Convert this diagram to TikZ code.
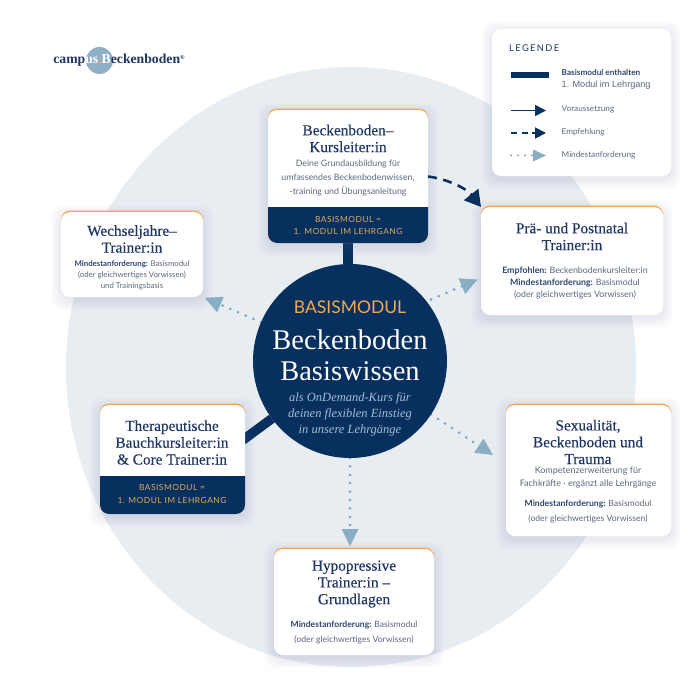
\documentclass[tikz,border=0pt]{standalone}
\usepackage{fontspec}
\setmainfont{Liberation Serif}
\newfontfamily\titlefont[FakeBold=0.25]{Liberation Serif}
\newfontfamily\bodyfont{Lato}
\newfontfamily\capsfont[LetterSpace=6]{Lato}
\newfontfamily\wideFont[LetterSpace=15]{Lato}
\newfontfamily\helvfont{Liberation Sans}
\usetikzlibrary{arrows.meta,calc}
\definecolor{navy}{HTML}{07305F}
\definecolor{titleblue}{HTML}{1F3564}
\definecolor{labelblue}{HTML}{2E4570}
\definecolor{bodygrey}{HTML}{5C687D}
\definecolor{gold}{HTML}{F2A94E}
\definecolor{goldtext}{HTML}{E0A960}
\definecolor{discbg}{HTML}{E8EDF2}
\definecolor{lightarrow}{HTML}{8AAFC5}
\definecolor{dotblue}{HTML}{7FA6C0}
\definecolor{italicblue}{HTML}{A6BDD4}
\definecolor{logoblue}{HTML}{8FAFC6}
\pgfdeclarelayer{bgl}
\pgfdeclarelayer{conn}
\pgfsetlayers{bgl,conn,main}
\tikzset{
  titletext/.style={font=\titlefont\fontsize{15.3}{16.8}\selectfont, text=titleblue, align=center, inner sep=0pt},
  bodytext/.style n args={2}{font=\bodyfont\fontsize{#1}{#2}\selectfont, text=bodygrey, align=center, inner sep=0pt},
  bandtext/.style={font=\capsfont\fontsize{8.4}{12.4}\selectfont, text=goldtext, align=center, inner sep=0pt},
  legendtext/.style={font=\bodyfont\fontsize{8.2}{10}\selectfont, text=bodygrey, anchor=west, inner sep=0pt},
  thickconn/.style={draw=navy, line width=9.5pt},
  minline/.style={draw=dotblue, line width=3pt, dash pattern=on 0pt off 8.4pt, line cap=round,
     -{Triangle[length=17pt,width=17pt,color=lightarrow,fill=lightarrow,line cap=butt,line width=0pt]}},
  empfline/.style={draw=navy, line width=2.6pt, dash pattern=on 9pt off 6.5pt,
     -{Triangle[length=16pt,width=18pt,fill=navy]}},
  legsolid/.style={draw=navy, line width=1.8pt, -{Triangle[length=11pt,width=11pt,fill=navy]}},
  legdash/.style={draw=navy, line width=1.8pt, dash pattern=on 6pt off 4.5pt, -{Triangle[length=11pt,width=11pt,fill=navy]}},
  legdot/.style={draw=dotblue, line width=2.2pt, dash pattern=on 0pt off 7pt, line cap=round,
     -{Triangle[length=13pt,width=12pt,color=lightarrow,fill=lightarrow,line cap=butt,line width=0pt]}},
  softshadow/.style={fill=black!60!blue!60!white, fill opacity=0.018, rounded corners=11pt}
}
\newcommand{\softshade}[4]{%
  \foreach \e in {1,2.5,4,5.5,7,8.5,10}{%
    \fill[softshadow] ({#1-\e},{#2+3-\e}) rectangle ({#3+\e},{#4+3+\e});}}
\newcommand{\whitecard}[5]{%
  \node[fill=white, rounded corners=9pt, inner sep=0pt, outer sep=0pt,
        minimum width={(#4-#2)*1pt}, minimum height={(#5-#3)*1pt}] (#1) at ({(#2+#4)/2},{(#3+#5)/2}) {};}
\newcommand{\goldcard}[5]{%
  \softshade{#2}{#3}{#4}{#5}%
  \fill[gold, rounded corners=9pt] (#2,{#3-1.5}) rectangle (#4,{#3+14});%
  \whitecard{#1}{#2}{#3}{#4}{#5}}
\newcommand{\band}[4]{%
  \fill[navy] (#1,#3) -- (#2,#3) [rounded corners=9pt] -- (#2,#4) -- (#1,#4) [sharp corners] -- cycle;}
\begin{document}
\begin{tikzpicture}[x=1pt,y=-1pt]
\useasboundingbox (0,0) rectangle (700,690);
\begin{pgfonlayer}{bgl}
  \fill[white] (0,0) rectangle (700,690);
  \fill[discbg] (351,367) ellipse [x radius=285, y radius=300];
\end{pgfonlayer}

% logo
\fill[logoblue] (99.5,60.5) circle [radius=13.5];
\node[font=\bfseries\fontsize{13.7}{14}\selectfont, text=titleblue, inner sep=0pt] (logo) at (119,60)
  {camp\textcolor{white}{us}\textcolor{gold}{.}\textcolor{white}{B}eckenboden\raisebox{3.5pt}{\fontsize{6}{6}\selectfont ®}};

% cards
\softshade{492}{29}{671}{176}
\whitecard{legend}{492}{29}{671}{176}

\goldcard{kurs}{268}{110}{428}{243}
\band{268}{428}{207}{243}
\node[titletext] (kurstitle) at (348,138.5) {Beckenboden–\\Kursleiter:in};
\node[bodytext={8.8}{14}] (kurstext) at (348,178) {Deine Grundausbildung für\\umfassendes Beckenbodenwissen,\\-training und Übungsanleitung};
\node[bandtext] (kursband) at (348,225.5) {BASISMODUL =\\1. MODUL IM LEHRGANG};

\goldcard{wechsel}{61}{212}{203}{297}
\node[titletext] (wechseltitle) at (132,239) {Wechseljahre–\\Trainer:in};
\node[bodytext={7.8}{11}] (wechseltext) at (132,275)
  {\textcolor{labelblue}{\textbf{Mindestanforderung:}} Basismodul\\(oder gleichwertiges Vorwissen)\\und Trainingsbasis};

\goldcard{prae}{481}{207}{663}{315}
\node[titletext] (praetitle) at (572,236.5) {Prä- und Postnatal\\Trainer:in};
\node[bodytext={8.8}{12}] (praetext) at (575,283)
  {\textcolor{labelblue}{\textbf{Empfohlen:}} Beckenbodenkursleiter:in\\\textcolor{labelblue}{\textbf{Mindestanforderung:}} Basismodul\\(oder gleichwertiges Vorwissen)};

\goldcard{therap}{100}{405}{245}{514}
\band{100}{245}{476}{514}
\node[titletext] (theraptitle) at (172,442.5) {Therapeutische\\Bauchkursleiter:in\\\& Core Trainer:in};
\node[bandtext] (therapband) at (172,494) {BASISMODUL =\\1. MODUL IM LEHRGANG};

\goldcard{sex}{506}{405}{671}{536}
\node[titletext] (sextitle) at (588,442) {Sexualität,\\Beckenboden und\\Trauma};
\node[bodytext={9}{13}] (sextext1) at (588,477.5) {Kompetenzerweiterung für\\Fachkräfte · ergänzt alle Lehrgänge};
\node[bodytext={8.6}{15}] (sextext2) at (588,511.5) {\textcolor{labelblue}{\textbf{Mindestanforderung:}} Basismodul\\(oder gleichwertiges Vorwissen)};

\goldcard{hypo}{274}{549}{434}{655}
\node[titletext] (hypotitle) at (354,584) {Hypopressive\\Trainer:in –\\Grundlagen};
\node[bodytext={8.6}{15}] (hypotext) at (354,632.5) {\textcolor{labelblue}{\textbf{Mindestanforderung:}} Basismodul\\(oder gleichwertiges Vorwissen)};

% centre disc
\node[circle, fill=navy, inner sep=0pt, outer sep=0pt, minimum size=194pt] (circ) at (350,361) {};
\node[font=\bodyfont\fontsize{17.5}{18}\selectfont, text=gold, inner sep=0pt] (cbasis) at (350,307) {BASISMODUL};
\node[font=\fontsize{28.5}{30.5}\selectfont, text=white, align=center, inner sep=0pt] (ctitle) at (350,355) {Beckenboden\\Basiswissen};
\node[font=\itshape\fontsize{12.5}{16}\selectfont, text=italicblue, align=center, inner sep=0pt] (csub) at (350,414.5)
  {als OnDemand-Kurs für\\deinen flexiblen Einstieg\\in unsere Lehrgänge};

% connectors
\coordinate (praeout) at (431,299.5);
\coordinate (praein) at (477.5,279.5);
\coordinate (sexin) at (493,455);
\begin{pgfonlayer}{conn}
  \draw[thickconn] (kurs.south) -- (kurs.south |- circ);
  \draw[thickconn] (circ) -- ($(therap.east)+(-15,-10)$);
  \draw[minline, shorten >=2pt] (circ) -- (wechsel.south east);
  \draw[minline] (praeout) -- (praein);
  \draw[minline] (circ) -- (sexin);
  \draw[minline, shorten >=3pt] (circ) -- (circ |- hypo.north);
\end{pgfonlayer}
\draw[empfline] (kurs.east) .. controls (447,179) and (466,188) .. (prae.north west);

% legend
\node[font=\wideFont\fontsize{9.3}{10}\selectfont, text=titleblue, inner sep=0pt, anchor=west] (legtitle) at (509,48) {LEGENDE};
\coordinate (l1a) at (511,75); \coordinate (l1b) at (549,75);
\coordinate (l2a) at (511,110.5); \coordinate (l2b) at (546,110.5);
\coordinate (l3a) at (511,133); \coordinate (l3b) at (546,133);
\coordinate (l4a) at (511,155.5); \coordinate (l4b) at (546,155.5);
\draw[navy, line width=5.5pt] (l1a) -- (l1b);
\draw[legsolid] (l2a) -- (l2b);
\draw[legdash] (l3a) -- (l3b);
\draw[legdot] (l4a) -- (l4b);
\node[legendtext, text=labelblue] (leg1) at (561.5,72) {\textbf{Basismodul enthalten}};
\node[legendtext, font=\helvfont\fontsize{9.1}{10}\selectfont] (leg1b) at (561.5,85.5) {1. Modul im Lehrgang};
\node[legendtext] (leg2) at (561.5,109.5) {Voraussetzung};
\node[legendtext] (leg3) at (561.5,132.5) {Empfehlung};
\node[legendtext] (leg4) at (561.5,155.5) {Mindestanforderung};
\end{tikzpicture}
\end{document}
